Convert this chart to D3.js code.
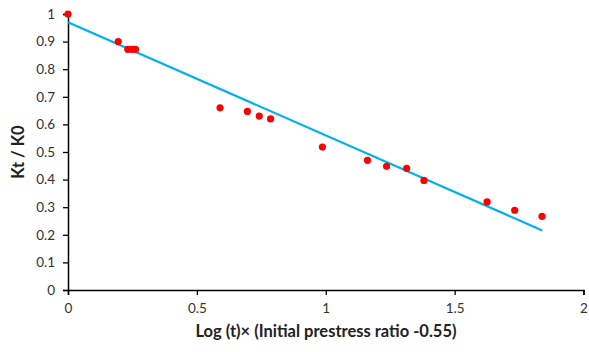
<!DOCTYPE html>
<html><head><meta charset="utf-8">
<script src="https://cdn.jsdelivr.net/npm/d3@7"></script>
<style>body{margin:0;background:#fff}svg{display:block}</style>
</head><body>
<svg id="c" width="589" height="352"></svg>
<script>
const xValues = [0, 0.195, 0.232, 0.248, 0.262, 0.59, 0.696, 0.742, 0.786, 0.987, 1.162, 1.236, 1.314, 1.381, 1.626, 1.733, 1.839];
const yValues = [1.0, 0.9, 0.872, 0.872, 0.872, 0.66, 0.647, 0.63, 0.62, 0.518, 0.47, 0.448, 0.441, 0.397, 0.319, 0.289, 0.267];
const fitX = [0, 1.84];
const fitY = [0.970, 0.216];
const xTicks = [0, 0.5, 1, 1.5, 2];
const yTicks = [0, 0.1, 0.2, 0.3, 0.4, 0.5, 0.6, 0.7, 0.8, 0.9, 1];

const svg = d3.select("#c");
const font = "Lato, 'Open Sans', sans-serif";
const x = d3.scaleLinear().domain([0, 2]).range([68, 583.5]);
const y = d3.scaleLinear().domain([0, 1]).range([290, 14]);

const xa = svg.append("g").attr("transform", "translate(0,290)")
  .call(d3.axisBottom(x).tickValues(xTicks).tickFormat(d => d).tickSizeOuter(0).tickSize(5).tickPadding(8));
const ya = svg.append("g").attr("transform", "translate(68,0)")
  .call(d3.axisLeft(y).tickValues(yTicks).tickFormat(d => d).tickSizeOuter(0).tickSize(5).tickPadding(8));
[xa, ya].forEach(a => {
  a.select(".domain").attr("stroke", "#000").attr("stroke-width", 1.5);
  a.selectAll(".tick line").attr("stroke", "#000").attr("stroke-width", 1.3);
  a.selectAll("text").attr("font-family", font).attr("font-size", 13.5).attr("fill", "#333");
});

svg.append("line")
  .attr("x1", x(fitX[0])).attr("y1", y(fitY[0]))
  .attr("x2", x(fitX[1])).attr("y2", y(fitY[1]))
  .attr("stroke", "#00B0F0").attr("stroke-width", 2.2);

svg.append("g").selectAll("circle").data(xValues).join("circle")
  .attr("cx", d => x(d)).attr("cy", (d, i) => y(yValues[i]))
  .attr("r", 3.6).attr("fill", "#FF0000");

svg.append("text").attr("x", 326).attr("y", 337).attr("text-anchor", "middle")
  .attr("font-family", font).attr("font-weight", "bold").attr("font-size", 16.5).attr("fill", "#222")
  .text("Log (t)× (Initial prestress ratio -0.55)");
svg.append("text").attr("transform", "translate(24,152) rotate(-90)").attr("text-anchor", "middle")
  .attr("font-family", font).attr("font-weight", "bold").attr("font-size", 16.5).attr("fill", "#222")
  .text("Kt / K0");
</script>
</body></html>
